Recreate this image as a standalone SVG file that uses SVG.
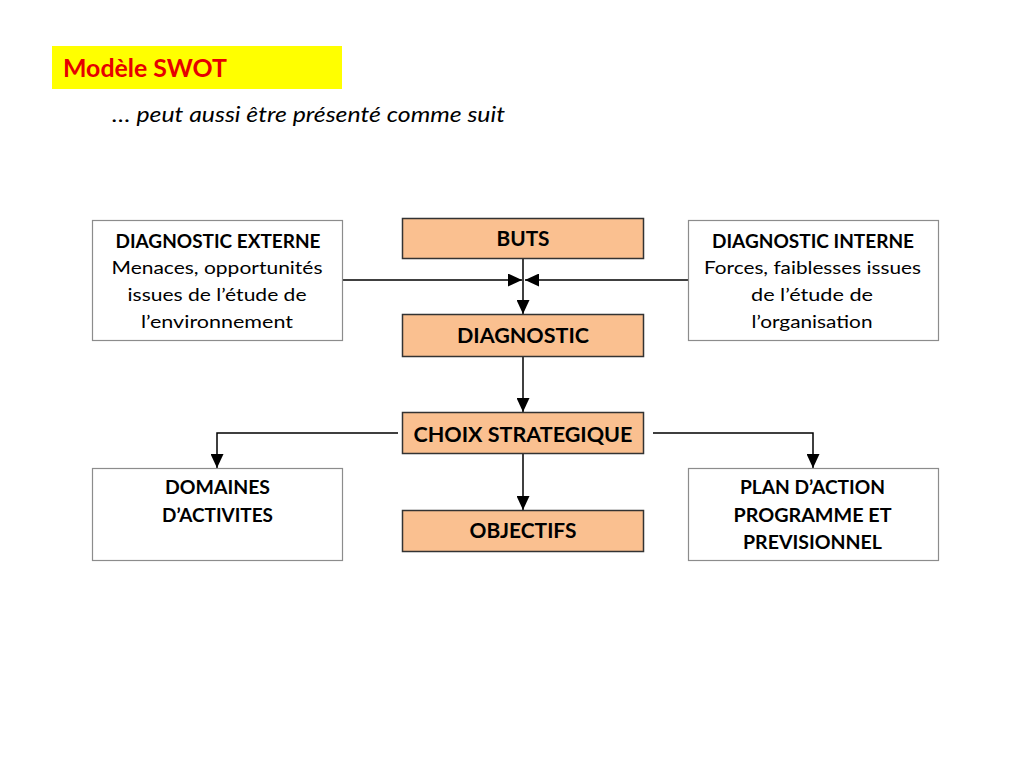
<svg xmlns="http://www.w3.org/2000/svg" width="1024" height="768" viewBox="0 0 1024 768">
<defs>
<style>
.bg{fill:#ffffff}
.wbox{fill:#ffffff;stroke:#8c8c8c;stroke-width:1.2}
.obox{fill:#FAC090;stroke:#333333;stroke-width:1.5}
.t{font-family:Lato,"Open Sans","Liberation Sans",sans-serif;fill:#000000;text-anchor:middle}
.b{font-weight:bold}
.n{font-size:18px}
.o{font-size:20.5px;font-weight:bold}
.con{fill:none;stroke:#000000;stroke-width:1.5}
</style>
<marker id="arr" viewBox="0 0 14 13" refX="14" refY="6.5" markerWidth="14" markerHeight="13" orient="auto" markerUnits="userSpaceOnUse">
<path d="M0,0 L14,6.5 L0,13 z" fill="#000000"/>
</marker>
</defs>
<rect class="bg" x="0" y="0" width="1024" height="768"/>

<g id="title">
<rect x="52" y="46" width="290" height="43" fill="#FFFF00"/>
<text x="63" y="77" font-family="Lato,'Open Sans','Liberation Sans',sans-serif" font-size="24" font-weight="bold" fill="#E60000" textLength="164" lengthAdjust="spacingAndGlyphs">Modèle SWOT</text>
</g>
<g id="subtitle">
<text x="112" y="122" font-family="Lato,'Open Sans','Liberation Sans',sans-serif" font-size="21" font-style="italic" fill="#000000" textLength="393" lengthAdjust="spacingAndGlyphs">… peut aussi être présenté comme suit</text>
</g>

<g id="connectors">
<line class="con" x1="523" y1="259" x2="523" y2="314" marker-end="url(#arr)"/>
<line class="con" x1="343" y1="280" x2="522" y2="280" marker-end="url(#arr)"/>
<line class="con" x1="688" y1="280" x2="525" y2="280" marker-end="url(#arr)"/>
<line class="con" x1="523" y1="357" x2="523" y2="412" marker-end="url(#arr)"/>
<line class="con" x1="523" y1="454" x2="523" y2="510" marker-end="url(#arr)"/>
<polyline class="con" points="398,433 217,433 217,468" marker-end="url(#arr)"/>
<polyline class="con" points="653,433 813,433 813,468" marker-end="url(#arr)"/>
</g>

<g id="diag-externe">
<rect class="wbox" x="92.5" y="220.5" width="250" height="120"/>
<text class="t b n" x="218" y="248" textLength="205" lengthAdjust="spacingAndGlyphs">DIAGNOSTIC EXTERNE</text>
<text class="t n" x="217" y="274" textLength="211" lengthAdjust="spacingAndGlyphs">Menaces, opportunités</text>
<text class="t n" x="217" y="301" textLength="179" lengthAdjust="spacingAndGlyphs">issues de l’étude de</text>
<text class="t n" x="217" y="328" textLength="152" lengthAdjust="spacingAndGlyphs">l’environnement</text>
</g>

<g id="diag-interne">
<rect class="wbox" x="688.5" y="220.5" width="250" height="120"/>
<text class="t b n" x="813" y="248" textLength="202" lengthAdjust="spacingAndGlyphs">DIAGNOSTIC INTERNE</text>
<text class="t n" x="812.5" y="274" textLength="217" lengthAdjust="spacingAndGlyphs">Forces, faiblesses issues</text>
<text class="t n" x="812" y="301" textLength="122" lengthAdjust="spacingAndGlyphs">de l’étude de</text>
<text class="t n" x="812" y="328" textLength="121" lengthAdjust="spacingAndGlyphs">l’organisation</text>
</g>

<g id="buts">
<rect class="obox" x="402.5" y="218.5" width="241" height="40"/>
<text class="t o" x="523" y="246" textLength="53" lengthAdjust="spacingAndGlyphs">BUTS</text>
</g>

<g id="diagnostic">
<rect class="obox" x="402.5" y="314.5" width="241" height="42"/>
<text class="t o" x="523" y="343" textLength="132" lengthAdjust="spacingAndGlyphs">DIAGNOSTIC</text>
</g>

<g id="choix">
<rect class="obox" x="402.5" y="412.5" width="241" height="41"/>
<text class="t o" x="523" y="441.5" textLength="219" lengthAdjust="spacingAndGlyphs">CHOIX STRATEGIQUE</text>
</g>

<g id="objectifs">
<rect class="obox" x="402.5" y="510.5" width="241" height="41"/>
<text class="t o" x="523" y="538" textLength="107" lengthAdjust="spacingAndGlyphs">OBJECTIFS</text>
</g>

<g id="domaines">
<rect class="wbox" x="92.5" y="468.5" width="250" height="92"/>
<text class="t b n" x="217.5" y="494" textLength="105" lengthAdjust="spacingAndGlyphs">DOMAINES</text>
<text class="t b n" x="217.5" y="521.5" textLength="111" lengthAdjust="spacingAndGlyphs">D’ACTIVITES</text>
</g>

<g id="plan">
<rect class="wbox" x="688.5" y="468.5" width="250" height="92"/>
<text class="t b n" x="812.5" y="494" textLength="145" lengthAdjust="spacingAndGlyphs">PLAN D’ACTION</text>
<text class="t b n" x="812.5" y="521.5" textLength="158" lengthAdjust="spacingAndGlyphs">PROGRAMME ET</text>
<text class="t b n" x="812.5" y="548.5" textLength="139" lengthAdjust="spacingAndGlyphs">PREVISIONNEL</text>
</g>
</svg>
